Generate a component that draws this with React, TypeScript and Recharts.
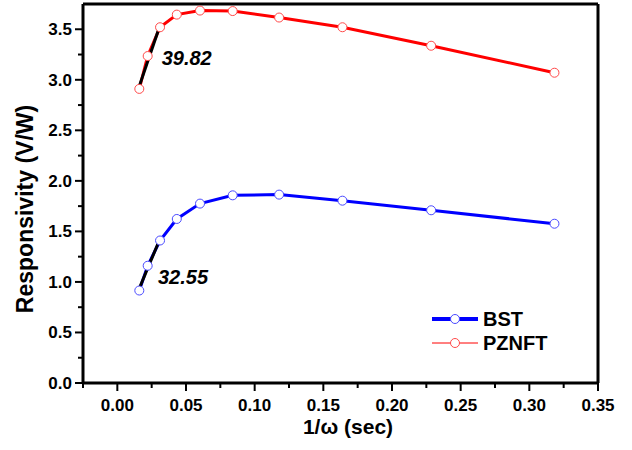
import {
  LineChart, Line, XAxis, YAxis, ReferenceLine, ReferenceDot, Legend,
} from "recharts";

// 1/ω values (sec) shared by both samples
const invOmega = [0.016, 0.0221, 0.0311, 0.0433, 0.0602, 0.084, 0.1178, 0.1639, 0.2285, 0.3183];
const bstResp = [0.915, 1.16, 1.41, 1.623, 1.775, 1.857, 1.864, 1.804, 1.709, 1.576];
const pznftResp = [2.91, 3.235, 3.52, 3.645, 3.685, 3.68, 3.616, 3.52, 3.337, 3.07];

// linear fits over the low 1/ω region
const fitRange = [0.0158, 0.031];
const bstFit = { start: 0.93, slope: 32.55 };
const pznftFit = { start: 2.93, slope: 39.82 };

const xTicks = [-0.025, 0, 0.025, 0.05, 0.075, 0.1, 0.125, 0.15, 0.175, 0.2, 0.225, 0.25, 0.275, 0.3, 0.325, 0.35];
const yTicks = [0, 0.25, 0.5, 0.75, 1, 1.25, 1.5, 1.75, 2, 2.25, 2.5, 2.75, 3, 3.25, 3.5];

const FONT = "'Liberation Sans', Arial, Helvetica, sans-serif";

const bstData = invOmega.map((x, i) => ({ x, y: bstResp[i] }));
const pznftData = invOmega.map((x, i) => ({ x, y: pznftResp[i] }));
const fitLine = (f: { start: number; slope: number }) =>
  fitRange.map((x) => ({ x, y: f.start + f.slope * (x - fitRange[0]) }));

const isMultiple = (v: number, step: number) => Math.abs(v / step - Math.round(v / step)) < 1e-6;

const XTick = (props: any) => {
  const { x, y, payload } = props;
  const major = isMultiple(payload.value, 0.05);
  return (
    <g>
      <line x1={x} x2={x} y1={y} y2={y + (major ? 8 : 5)} stroke="#000" strokeWidth={2} />
      {major && (
        <text x={x} y={y + 28} textAnchor="middle" fontFamily={FONT} fontWeight={700} fontSize={17} fill="#000">
          {payload.value.toFixed(2)}
        </text>
      )}
    </g>
  );
};

const YTick = (props: any) => {
  const { x, y, payload } = props;
  const major = isMultiple(payload.value, 0.5);
  return (
    <g>
      <line x1={x - (major ? 8 : 5)} x2={x} y1={y} y2={y} stroke="#000" strokeWidth={2} />
      {major && (
        <text x={x - 11} y={y + 6} textAnchor="end" fontFamily={FONT} fontWeight={700} fontSize={17} fill="#000">
          {payload.value.toFixed(1)}
        </text>
      )}
    </g>
  );
};

const LegendBox = () => (
  <svg width={140} height={50}>
    <line x1={2} x2={48} y1={13} y2={13} stroke="#0000ff" strokeWidth={4} />
    <circle cx={25} cy={13} r={4.5} fill="#fff" stroke="#4a4aff" strokeWidth={1} />
    <text x={53} y={20} fontFamily={FONT} fontWeight={700} fontSize={20} fill="#000">BST</text>
    <line x1={2} x2={48} y1={37} y2={37} stroke="#ff0000" strokeWidth={1} />
    <circle cx={25} cy={37} r={4.5} fill="#fff" stroke="#ff4a4a" strokeWidth={1} />
    <text x={53} y={44} fontFamily={FONT} fontWeight={700} fontSize={20} fill="#000">PZNFT</text>
  </svg>
);

const slopeLabel = (text: string) => (p: any) => (
  <text x={p.cx} y={p.cy} fontFamily={FONT} fontWeight={700} fontStyle="italic" fontSize={20} fill="#000">
    {text}
  </text>
);

export default function App() {
  return (
    <div style={{ position: "absolute", left: 0, top: 0, width: 632, height: 450, background: "#fff" }}>
      <LineChart width={632} height={450} data={bstData} margin={{ top: 4, right: 34, bottom: 0, left: 0 }}>
        <XAxis
          type="number"
          dataKey="x"
          domain={[-0.025, 0.35]}
          ticks={xTicks}
          interval={0}
          allowDataOverflow
          height={67}
          axisLine={{ stroke: "#000", strokeWidth: 3 }}
          tickLine={false}
          tickSize={0}
          tickMargin={0}
          tick={<XTick />}
          label={{
            content: () => (
              <text x={348} y={434} textAnchor="middle" fontFamily={FONT} fontWeight={700} fontSize={21} fill="#000">
                1/ω (sec)
              </text>
            ),
          }}
        />
        <YAxis
          type="number"
          dataKey="y"
          domain={[0, 3.75]}
          ticks={yTicks}
          interval={0}
          allowDataOverflow
          width={83}
          axisLine={{ stroke: "#000", strokeWidth: 3 }}
          tickLine={false}
          tickSize={0}
          tickMargin={0}
          tick={<YTick />}
          label={{
            content: () => (
              <text
                x={33}
                y={209}
                transform="rotate(-90, 33, 209)"
                textAnchor="middle"
                fontFamily={FONT}
                fontWeight={700}
                fontSize={23}
                fill="#000"
              >
                Responsivity (V/W)
              </text>
            ),
          }}
        />
        {/* closing frame */}
        <ReferenceLine y={3.75} stroke="#000" strokeWidth={3} />
        <ReferenceLine x={0.35} stroke="#000" strokeWidth={3} />

        <Line
          data={pznftData}
          dataKey="y"
          name="PZNFT"
          stroke="#ff0000"
          strokeWidth={3}
          dot={{ r: 4.5, fill: "#fff", stroke: "#ff4a4a", strokeWidth: 1 }}
          isAnimationActive={false}
        />
        <Line
          data={bstData}
          dataKey="y"
          name="BST"
          stroke="#0000ff"
          strokeWidth={3}
          dot={{ r: 4.5, fill: "#fff", stroke: "#4a4aff", strokeWidth: 1 }}
          isAnimationActive={false}
        />
        <Line data={fitLine(pznftFit)} dataKey="y" stroke="#000" strokeWidth={3} dot={false} legendType="none" isAnimationActive={false} />
        <Line data={fitLine(bstFit)} dataKey="y" stroke="#000" strokeWidth={3} dot={false} legendType="none" isAnimationActive={false} />

        <ReferenceDot x={0.0323} y={3.146} r={0} shape={slopeLabel(String(pznftFit.slope))} />
        <ReferenceDot x={0.0296} y={0.98} r={0} shape={slopeLabel(String(bstFit.slope))} />

        <Legend
          layout="vertical"
          align="center"
          verticalAlign="middle"
          wrapperStyle={{ left: 430, top: 306, width: 140, height: 50 }}
          content={() => <LegendBox />}
        />
      </LineChart>
    </div>
  );
}
